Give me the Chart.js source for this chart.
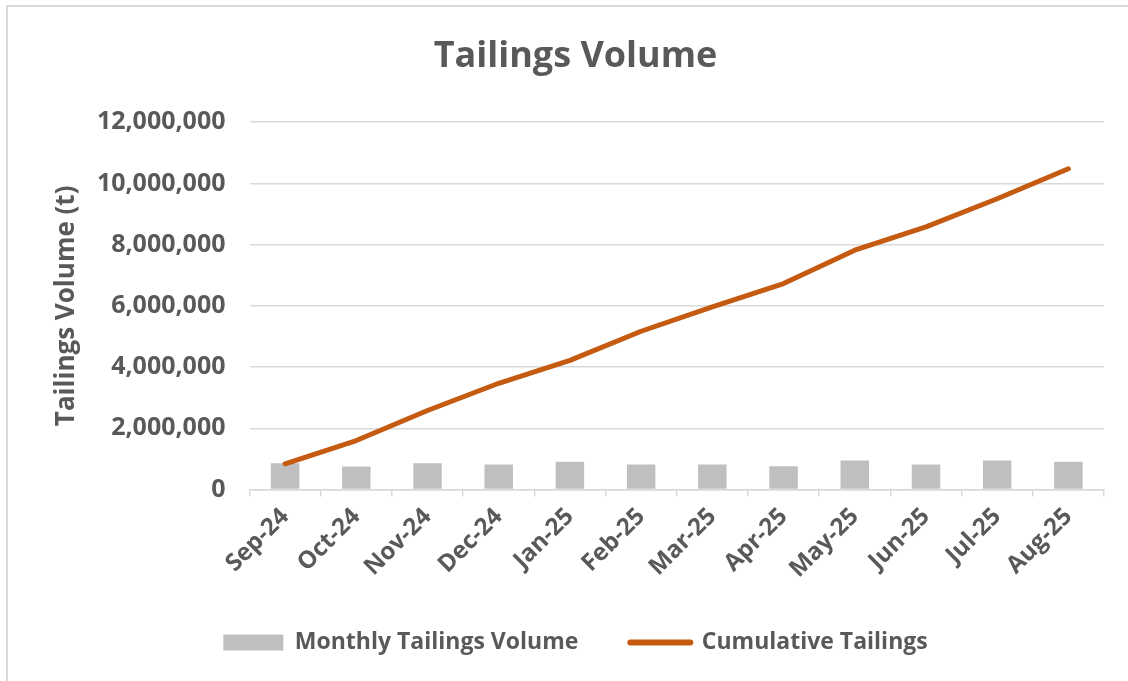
<!DOCTYPE html>
<html>
<head>
<meta charset="utf-8">
<title>Tailings Volume</title>
<script src="https://cdn.jsdelivr.net/npm/chart.js@4.4.1/dist/chart.umd.min.js"></script>
<style>
    html, body { margin: 0; padding: 0; background: #fff; }
    #wrap { position: relative; width: 1128px; height: 681px; overflow: hidden; }
    #frame { position: absolute; left: 6px; top: 5px; width: 1300px; height: 900px; border: 2px solid #d9d9d9; box-sizing: border-box; }
    #tailings { position: absolute; left: 0; top: 0; }
</style>
</head>
<body>
<div id="wrap">
    <div id="frame"></div>
    <canvas id="tailings" width="1128" height="681"></canvas>
</div>
<script>
const months = ['Sep-24', 'Oct-24', 'Nov-24', 'Dec-24', 'Jan-25', 'Feb-25', 'Mar-25', 'Apr-25', 'May-25', 'Jun-25', 'Jul-25', 'Aug-25'];
const monthlyVolume = [860000, 750000, 860000, 820000, 910000, 820000, 820000, 760000, 950000, 820000, 950000, 910000];
const cumulativeTailings = [840000, 1600000, 2580000, 3470000, 4220000, 5170000, 5970000, 6730000, 7820000, 8580000, 9500000, 10480000];
const yTickValues = [0, 2000000, 4000000, 6000000, 8000000, 10000000, 12000000];

const textColor = '#595959';
const gridColor = '#d9d9d9';
const barColor = '#bfbfbf';
const lineColor = '#c55a11';
const fontFamily = "'Open Sans', 'DejaVu Sans', sans-serif";

(function () {
    const canvas = document.getElementById('tailings');

    const data = {
        labels: months,
        datasets: [{
            type: 'bar',
            label: 'Monthly Tailings Volume',
            data: monthlyVolume,
            backgroundColor: barColor,
            borderWidth: 0,
            barPercentage: 0.4,
            categoryPercentage: 1,
            order: 1,
        }, {
            type: 'line',
            label: 'Cumulative Tailings',
            data: cumulativeTailings,
            borderColor: lineColor,
            backgroundColor: lineColor,
            borderWidth: 5,
            borderCapStyle: 'round',
            borderJoinStyle: 'round',
            pointRadius: 0,
            tension: 0,
            order: 0,
        }]
    };

    const config = {
        data: data,
        options: {
            responsive: false,
            animation: false,
            layout: {
                padding: { top: 35, left: 47, right: 24, bottom: 17 }
            },
            plugins: {
                title: {
                    display: true,
                    text: 'Tailings Volume',
                    color: textColor,
                    font: { family: fontFamily, size: 36, weight: 'bold' },
                    padding: { top: 0, bottom: 44 }
                },
                legend: {
                    position: 'bottom',
                    labels: {
                        color: textColor,
                        font: { family: fontFamily, size: 23, weight: 'bold' },
                        usePointStyle: true,
                        pointStyleWidth: 60,
                        boxHeight: 16,
                        padding: 52,
                        generateLabels: (chart) => chart.data.datasets.map((ds, i) => ({
                            text: ds.label,
                            datasetIndex: i,
                            fillStyle: ds.type === 'bar' ? barColor : lineColor,
                            strokeStyle: ds.type === 'bar' ? barColor : lineColor,
                            lineWidth: ds.type === 'bar' ? 0 : 6,
                            lineCap: 'round',
                            pointStyle: ds.type === 'bar' ? 'rect' : 'line',
                            fontColor: textColor,
                            hidden: false,
                        }))
                    }
                },
                tooltip: { enabled: false }
            },
            scales: {
                x: {
                    offset: true,
                    grid: {
                        offset: true,
                        drawOnChartArea: false,
                        drawTicks: true,
                        tickLength: 7,
                        color: gridColor,
                        lineWidth: 1.5,
                    },
                    border: { display: true, color: gridColor, width: 1.5 },
                    ticks: {
                        color: textColor,
                        font: { family: fontFamily, size: 24, weight: 'bold' },
                        minRotation: 45,
                        maxRotation: 45,
                        padding: 6,
                    },
                    afterFit: (scale) => { scale.height = 89.5; }
                },
                y: {
                    min: 0,
                    max: 12000000,
                    afterBuildTicks: (scale) => {
                        scale.ticks = yTickValues.map(v => ({ value: v }));
                    },
                    grid: {
                        drawTicks: false,
                        color: gridColor,
                        lineWidth: 1.5,
                    },
                    border: { display: false },
                    ticks: {
                        color: textColor,
                        font: { family: fontFamily, size: 25, weight: 'bold' },
                        padding: 24,
                        callback: (v) => Number(v).toLocaleString('en-US'),
                    },
                    title: {
                        display: true,
                        text: 'Tailings Volume (t)',
                        color: textColor,
                        font: { family: fontFamily, size: 26, weight: 'bold' },
                        padding: { top: 4, bottom: 4 }
                    },
                    afterFit: (scale) => { scale.width = 202.5; }
                }
            }
        }
    };

    new Chart(canvas, config);
})();
</script>
</body>
</html>
